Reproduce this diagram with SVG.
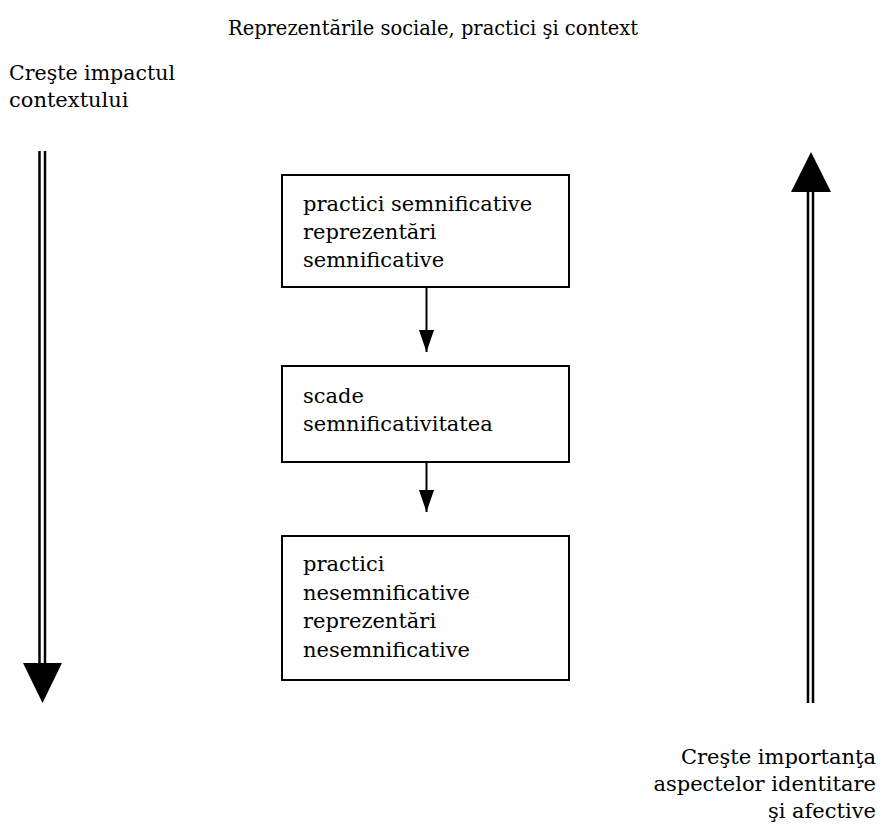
<svg xmlns="http://www.w3.org/2000/svg" width="883" height="830" viewBox="0 0 883 830">
  <style>
    .t { font-family: 'DejaVu Serif', 'Liberation Serif', serif; font-size: 21px; fill: #000; }
    .box { fill: #fff; stroke: #000; stroke-width: 2; }
    .conn { stroke: #000; stroke-width: 2; fill: none; }
    .dbl { stroke: #000; stroke-width: 2.5; fill: none; }
  </style>
  <defs>
    <marker id="ah" viewBox="0 0 22 15" refX="22" refY="7.5" markerWidth="22" markerHeight="15" markerUnits="userSpaceOnUse" orient="auto">
      <path d="M0,0 L22,7.5 L0,15 Z" fill="#000"/>
    </marker>
  </defs>
  <rect width="883" height="830" fill="#fff"/>

  <g id="title">
    <text class="t" x="228" y="35" textLength="410" lengthAdjust="spacingAndGlyphs">Reprezentările sociale, practici şi context</text>
  </g>

  <g id="left-label">
    <text class="t" x="9" y="80" textLength="166" lengthAdjust="spacingAndGlyphs">Creşte impactul</text>
    <text class="t" x="9" y="107">contextului</text>
  </g>

  <g id="right-label">
    <text class="t" x="876" y="764" text-anchor="end">Creşte importanţa</text>
    <text class="t" x="876" y="791" text-anchor="end">aspectelor identitare</text>
    <text class="t" x="876" y="818" text-anchor="end">şi afective</text>
  </g>

  <g id="box1">
    <rect class="box" x="282" y="175" width="287" height="112"/>
    <text class="t" x="303" y="211">practici semnificative</text>
    <text class="t" x="303" y="239">reprezentări</text>
    <text class="t" x="303" y="267">semnificative</text>
  </g>

  <g id="box2">
    <rect class="box" x="282" y="366" width="287" height="96"/>
    <text class="t" x="303" y="403">scade</text>
    <text class="t" x="303" y="431">semnificativitatea</text>
  </g>

  <g id="box3">
    <rect class="box" x="282" y="536" width="287" height="144"/>
    <text class="t" x="303" y="571">practici</text>
    <text class="t" x="303" y="600">nesemnificative</text>
    <text class="t" x="303" y="628">reprezentări</text>
    <text class="t" x="303" y="657">nesemnificative</text>
  </g>

  <g id="connectors">
    <line class="conn" x1="426.5" y1="287" x2="426.5" y2="352" marker-end="url(#ah)"/>
    <line class="conn" x1="426.5" y1="462" x2="426.5" y2="512" marker-end="url(#ah)"/>

    <g id="left-arrow">
      <line class="dbl" x1="39.5" y1="151" x2="39.5" y2="664"/>
      <line class="dbl" x1="45" y1="151" x2="45" y2="664"/>
      <path d="M23,663 L62,663 L42.5,703 Z" fill="#000"/>
    </g>

    <g id="right-arrow">
      <line class="dbl" x1="808" y1="191" x2="808" y2="703"/>
      <line class="dbl" x1="813" y1="191" x2="813" y2="703"/>
      <path d="M791,192 L831,192 L811,152 Z" fill="#000"/>
    </g>
  </g>
</svg>
